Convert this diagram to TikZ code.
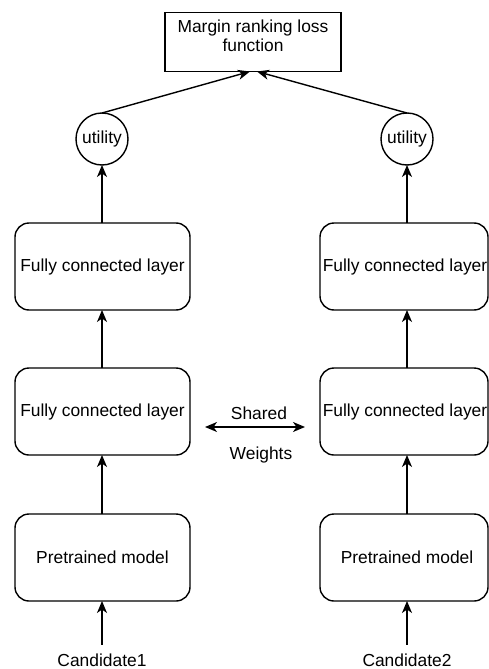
\documentclass[tikz,border=0pt]{standalone}
\usepackage{fontspec}
\setmainfont{Liberation Sans}
\usetikzlibrary{arrows.meta}
\begin{document}
\begin{tikzpicture}[x=1pt,y=-1pt,
  every node/.style={font=\fontsize{17.4}{20}\selectfont},
  box/.style={draw, line width=1.4pt, rounded corners=14pt, minimum width=175pt, minimum height=87pt, inner sep=0pt, outer sep=0pt},
  rbox/.style={box, minimum width=168pt},
  topbox/.style={draw, line width=1.4pt, minimum width=176pt, minimum height=59pt, inner sep=0pt, outer sep=0pt},
  circ/.style={draw, circle, line width=1.4pt, minimum size=52pt, inner sep=0pt, outer sep=0pt},
  lbl/.style={inner sep=0pt},
  arr/.style={line width=1.4pt, -{Stealth[length=12pt,width=10pt,inset=3.5pt]}},
  darr/.style={line width=1.4pt, {Stealth[length=12pt,width=10pt,inset=3.5pt]}-{Stealth[length=12pt,width=10pt,inset=3.5pt]}}
]
\useasboundingbox (0,0) rectangle (489,669);
\node[topbox] (loss) at (253,42) {};
\node[lbl, align=center] (losst) at (253,36) {Margin ranking loss\\[-1pt]function};
\node[circ] (u1) at (102,139) {utility};
\node[circ] (u2) at (407,139) {utility};
\node[box] (f1a) at (102.5,266.5) {Fully connected layer};
\node[rbox] (f2a) at (404,266.5) {\hspace*{2pt}Fully connected layer};
\node[box] (f1b) at (102.5,411.5) {Fully connected layer};
\node[rbox] (f2b) at (404,411.5) {\hspace*{2pt}Fully connected layer};
\node[box] (p1) at (102.5,557.5) {Pretrained model};
\node[rbox] (p2) at (404,557.5) {\hspace*{6pt}Pretrained model};
\node[lbl] (c1) at (102,660) {Candidate1};
\node[lbl] (c2) at (407,660) {Candidate2};
\node[lbl] (sh) at (259,413) {Shared};
\node[lbl] (wt) at (261,455) {Weights};
\coordinate (sl) at (205,427);
\coordinate (sr) at (305,427);
% arrows left column
\draw[arr] ([yshift=8.5pt]c1.north) -- (p1.south -| c1);
\draw[arr] (p1.north -| c1) -- (f1b.south -| c1);
\draw[arr] (f1b.north -| c1) -- (f1a.south -| c1);
\draw[arr] (f1a.north -| c1) -- (u1.south);
\draw[arr] (u1.north) -- ([xshift=-3pt]loss.south);
% arrows right column
\draw[arr] ([yshift=8.5pt]c2.north) -- (p2.south -| c2);
\draw[arr] (p2.north -| c2) -- (f2b.south -| c2);
\draw[arr] (f2b.north -| c2) -- (f2a.south -| c2);
\draw[arr] (f2a.north -| c2) -- (u2.south);
\draw[arr] (u2.north) -- ([xshift=4pt]loss.south);
% shared weights
\draw[darr] (sl) -- (sr);
\end{tikzpicture}
\end{document}
